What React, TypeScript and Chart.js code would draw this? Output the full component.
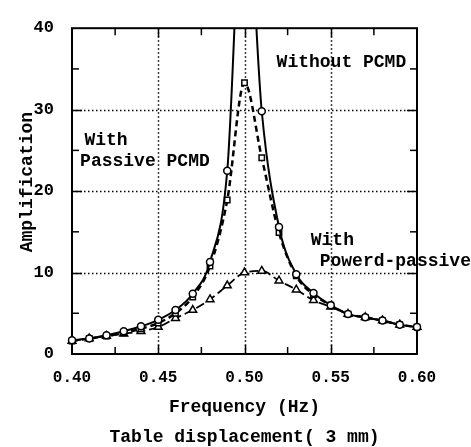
import { useEffect, useRef } from 'react';
import { Chart, registerables } from 'chart.js';

Chart.register(...registerables);

// Frequency (Hz)
const frequencies = [0.40, 0.41, 0.42, 0.43, 0.44, 0.45, 0.46, 0.47, 0.48, 0.49, 0.50, 0.51, 0.52, 0.53, 0.54, 0.55, 0.56, 0.57, 0.58, 0.59, 0.60];
// Amplification
const withoutPCMD = [1.7, 1.9, 2.3, 2.8, 3.4, 4.2, 5.4, 7.4, 11.3, 22.5, 60, 29.8, 15.6, 9.8, 7.5, 6.0, 4.9, 4.5, 4.1, 3.6, 3.3];
const withPassivePCMD = [1.6, 1.9, 2.2, 2.6, 3.1, 3.8, 5.0, 7.0, 10.8, 18.9, 33.3, 24.1, 14.9, 9.6, 7.3, 6.0, 4.9, 4.5, 4.1, 3.6, 3.3];
const withPoweredPassive = [1.6, 1.9, 2.2, 2.5, 2.8, 3.3, 4.4, 5.4, 6.7, 8.4, 10.0, 10.2, 9.0, 7.9, 6.6, 5.8, 4.9, 4.5, 4.1, 3.6, 3.3];

const xTickValues = [0.40, 0.45, 0.50, 0.55, 0.60];
const yTickValues = [0, 10, 20, 30, 40];
const xMinorTicks = [0.425, 0.475, 0.525, 0.575];
const yMinorTicks = [5, 15, 25, 35];

const xTitle = 'Frequency (Hz)';
const xSubtitle = 'Table displacement( 3 mm)';
const yTitle = 'Amplification';
const noteWithout = 'Without PCMD';
const notePassive = ['With', 'Passive PCMD'];
const notePowered = ['With', 'Powerd-passive'];

const FONT = "'Liberation Mono', 'DejaVu Sans Mono', monospace";

export default function App() {
  const ref = useRef<HTMLCanvasElement | null>(null);

  useEffect(() => {
    if (!ref.current) return;
    const toPts = (ys: number[]) => frequencies.map((f, i) => ({ x: f, y: ys[i] }));

    const decor = {
      id: 'decor',
      beforeDatasetsDraw(chart: any) {
        const { ctx, chartArea: a, scales } = chart;
        const x = scales.x, y = scales.y;
        const line = (x1: number, y1: number, x2: number, y2: number) => {
          ctx.beginPath();
          ctx.moveTo(x1, y1);
          ctx.lineTo(x2, y2);
          ctx.stroke();
        };
        ctx.save();
        ctx.strokeStyle = '#000';
        ctx.lineWidth = 1.5;
        ctx.setLineDash([1.5, 2.5]);
        xTickValues.slice(1, -1).forEach((v) => {
          const px = Math.round(x.getPixelForValue(v)) + 0.5;
          line(px, a.top, px, a.bottom);
        });
        yTickValues.slice(1, -1).forEach((v) => {
          const py = Math.round(y.getPixelForValue(v)) + 0.5;
          line(a.left, py, a.right, py);
        });
        ctx.setLineDash([]);
        ctx.lineWidth = 1.5;
        xMinorTicks.forEach((v) => {
          const px = x.getPixelForValue(v);
          line(px, a.bottom, px, a.bottom - 7);
          line(px, a.top, px, a.top + 7);
        });
        xTickValues.slice(1, -1).forEach((v) => {
          const px = Math.round(x.getPixelForValue(v)) + 0.5;
          line(px, a.bottom, px, a.bottom - 9);
          line(px, a.top, px, a.top + 9);
        });
        yMinorTicks.forEach((v) => {
          const py = y.getPixelForValue(v);
          line(a.left, py, a.left + 7, py);
          line(a.right, py, a.right - 7, py);
        });
        yTickValues.slice(1, -1).forEach((v) => {
          const py = Math.round(y.getPixelForValue(v)) + 0.5;
          line(a.left, py, a.left + 10, py);
          line(a.right, py, a.right - 10, py);
        });
        ctx.lineWidth = 2;
        ctx.strokeRect(a.left, a.top, a.right - a.left, a.bottom - a.top);
        ctx.restore();
      },
      afterDraw(chart: any) {
        const { ctx, chartArea: a, scales } = chart;
        const x = scales.x, y = scales.y;
        ctx.save();
        ctx.fillStyle = '#000';
        ctx.font = `bold 18px ${FONT}`;
        ctx.textBaseline = 'middle';
        ctx.textAlign = 'left';
        const put = (t: string, xv: number, yv: number) =>
          ctx.fillText(t, x.getPixelForValue(xv), y.getPixelForValue(yv));
        put(noteWithout, 0.5186, 35.8);
        put(notePassive[0], 0.4072, 26.2);
        put(notePassive[1], 0.4047, 23.6);
        put(notePowered[0], 0.5384, 14.0);
        put(notePowered[1], 0.5436, 11.3);

        ctx.textAlign = 'center';
        const cx = (a.left + a.right) / 2;
        ctx.fillText(xTitle, cx, a.bottom + 53);
        ctx.fillText(xSubtitle, cx, a.bottom + 83);

        ctx.translate(27, (a.top + a.bottom) / 2 - 9);
        ctx.rotate(-Math.PI / 2);
        ctx.fillText(yTitle, 0, 0);
        ctx.restore();
      },
    };

    const clip = { left: 8, right: 8, top: 0, bottom: 8 };
    const chart = new Chart(ref.current, {
      type: 'line',
      data: {
        datasets: [
          {
            label: 'Without PCMD',
            data: toPts(withoutPCMD),
            borderColor: '#000',
            borderWidth: 2,
            pointStyle: 'circle',
            pointRadius: 3.5,
            pointBorderWidth: 1.5,
            pointBackgroundColor: '#fff',
            pointBorderColor: '#000',
            cubicInterpolationMode: 'monotone',
            clip,
          },
          {
            label: 'With Passive PCMD',
            data: toPts(withPassivePCMD),
            borderColor: '#000',
            borderWidth: 2.5,
            borderDash: [6, 4],
            pointStyle: 'rect',
            pointRadius: 3.8,
            pointBorderWidth: 1.5,
            pointBackgroundColor: '#fff',
            pointBorderColor: '#000',
            cubicInterpolationMode: 'monotone',
            clip,
          },
          {
            label: 'With Powerd-passive',
            data: toPts(withPoweredPassive),
            borderColor: '#000',
            borderWidth: 1.8,
            borderDash: [9, 4],
            pointStyle: 'triangle',
            pointRadius: 4.5,
            pointBorderWidth: 1.5,
            pointBackgroundColor: '#fff',
            pointBorderColor: '#000',
            cubicInterpolationMode: 'monotone',
            clip,
          },
        ],
      },
      options: {
        animation: false,
        responsive: false,
        devicePixelRatio: 1,
        layout: { padding: { left: 0, top: 14, right: 54, bottom: 0 } },
        plugins: { legend: { display: false }, tooltip: { enabled: false } },
        scales: {
          x: {
            type: 'linear',
            min: 0.4,
            max: 0.6,
            afterFit: (s: any) => { s.height = 93; },
            afterBuildTicks: (s: any) => { s.ticks = xTickValues.map((v) => ({ value: v })); },
            grid: { display: false, drawTicks: false },
            border: { display: false },
            ticks: {
              padding: 14,
              color: '#000',
              font: { family: FONT, size: 16, weight: 'bold' },
              callback: (v: any) => Number(v).toFixed(2),
              maxRotation: 0,
            },
          },
          y: {
            type: 'linear',
            min: 0,
            max: 40,
            afterFit: (s: any) => { s.width = 72; },
            afterBuildTicks: (s: any) => { s.ticks = yTickValues.map((v) => ({ value: v })); },
            grid: { display: false, drawTicks: false },
            border: { display: false },
            ticks: {
              padding: 18,
              color: '#000',
              font: { family: FONT, size: 17, weight: 'bold' },
            },
          },
        },
      },
      plugins: [decor],
    } as any);
    return () => chart.destroy();
  }, []);

  return (
    <div style={{ position: 'absolute', left: 0, top: 0, width: 471, height: 447, background: '#fff' }}>
      <canvas ref={ref} width={471} height={447} style={{ width: 471, height: 447, display: 'block' }} />
    </div>
  );
}
